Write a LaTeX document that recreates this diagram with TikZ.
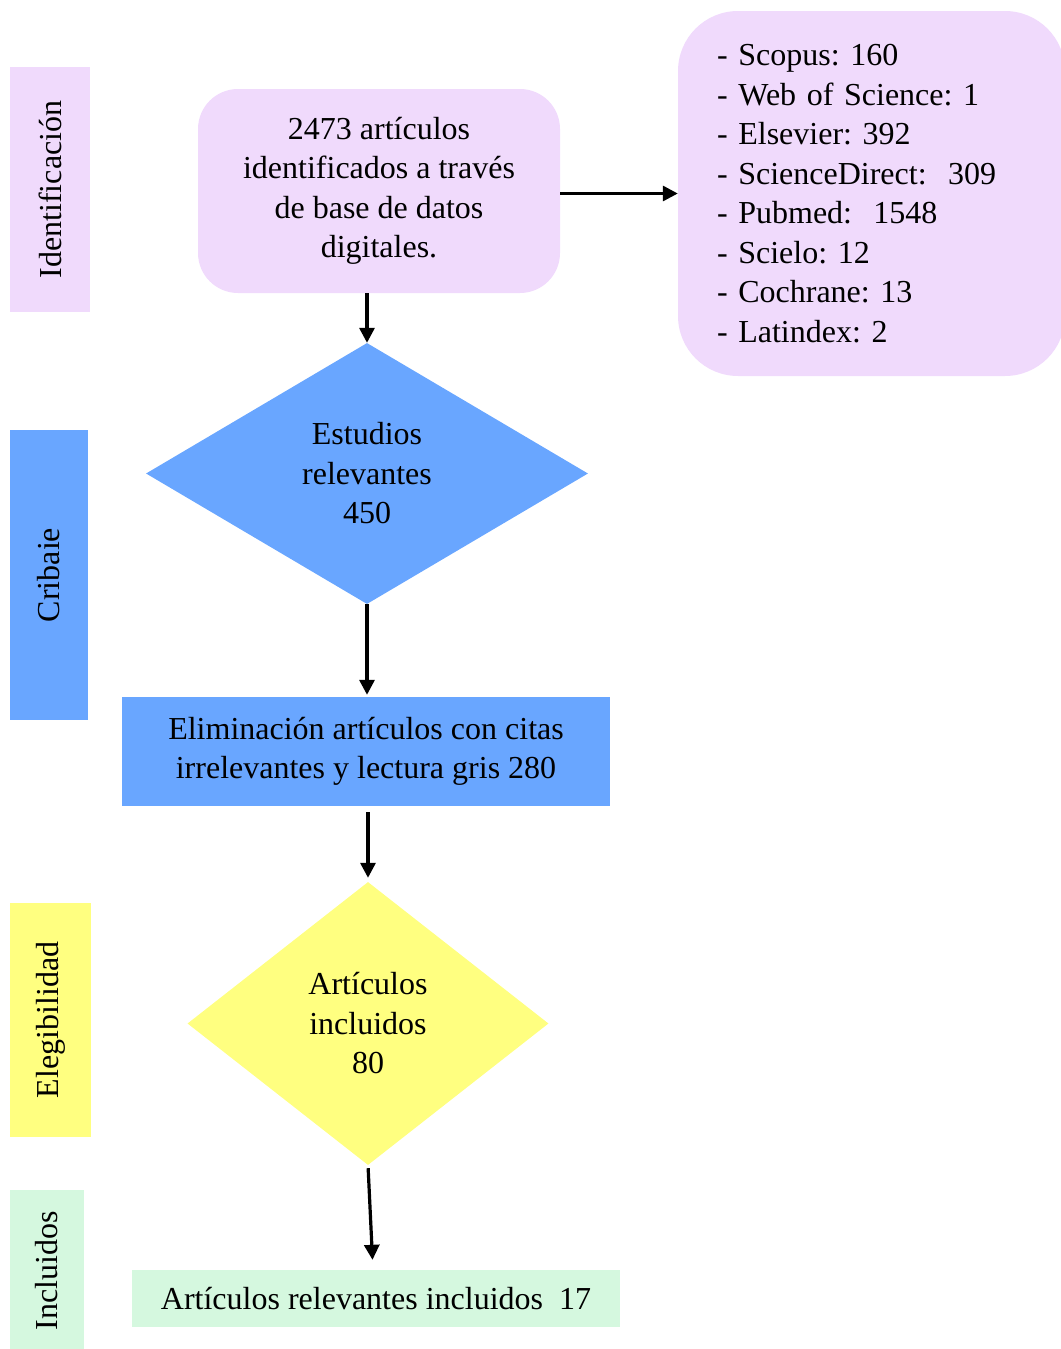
\documentclass[tikz,border=0pt]{standalone}
\usepackage{fontspec}
\setmainfont{Liberation Serif}
\usetikzlibrary{shapes.geometric,arrows.meta}
\definecolor{lpurple}{HTML}{F0DAFC}
\definecolor{lblue}{HTML}{69A6FF}
\definecolor{lyellow}{HTML}{FFFF80}
\definecolor{lmint}{HTML}{D5F8DF}
\tikzset{
  txt/.style={font=\fontsize{32}{39.5}\selectfont\frenchspacing, text=black},
  sidelabel/.style={txt, rotate=90, inner sep=0pt, draw=none},
  flowbox/.style={txt, align=center, inner sep=0pt, draw=none},
  diam/.style={txt, diamond, align=center, inner sep=0pt, draw=none},
  conn/.style={line width=3.2pt, -{Triangle[length=15pt,width=15pt]}},
}
\begin{document}
\begin{tikzpicture}[x=1pt,y=-1pt]
\useasboundingbox (0,0) rectangle (1060,1349);
% side labels
\node[sidelabel, fill=lpurple, minimum width=245pt, minimum height=80pt] (sid) at (50,189.5) {Identificación};
\node[sidelabel, fill=lblue, minimum width=290pt, minimum height=78pt] (scr) at (49,575) {Cribaie};
\node[sidelabel, fill=lyellow, minimum width=234pt, minimum height=81pt] (sel) at (50.5,1020) {Elegibilidad};
\node[sidelabel, fill=lmint, minimum width=162pt, minimum height=74pt] (sin) at (47,1271) {Incluidos};
% main nodes
\node[flowbox, fill=lpurple, rounded corners=40pt, minimum width=362pt, minimum height=204pt] (b1) at (379,191)
  {2473 artículos\\identificados a través\\de base de datos\\digitales.};
\node[txt, fill=lpurple, rounded corners=60pt, align=left, text width=309pt, inner xsep=39pt, inner ysep=0pt, minimum height=365pt] (b2) at (871.5,193.5)
  {- Scopus: 160\\- Web of Science: 1\\- Elsevier: 392\\- ScienceDirect:\ \ 309\\- Pubmed:\ \ 1548\\- Scielo: 12\\- Cochrane: 13\\- Latindex: 2};
\node[diam, fill=lblue, minimum width=442pt, minimum height=261pt] (d1) at (367,473.5)
  {Estudios\\relevantes\\450};
\node[flowbox, fill=lblue, minimum width=488pt, minimum height=109pt] (r3) at (366,751.5)
  {Eliminación artículos con citas\\irrelevantes y lectura gris 280};
\node[diam, fill=lyellow, minimum width=361pt, minimum height=283pt] (d2) at (368,1023.5)
  {Artículos\\incluidos\\80};
\node[flowbox, fill=lmint, minimum width=488pt, minimum height=57pt] (r4) at (376,1298.5)
  {Artículos relevantes incluidos\ \ 17};
% connectors
\draw[conn] (b1.east |- b2.west) -- (b2.west);
\draw[conn] (b1.south -| d1.north) -- (d1.north);
\draw[conn, shorten >=2pt] (d1.south) -- (d1.south |- r3.north);
\draw[conn, shorten <=6pt, shorten >=4pt] (r3.south -| d2.north) -- (d2.north);
\draw[conn, shorten <=3pt, shorten >=10pt] (d2.south) -- ([xshift=-3pt]r4.north);
\end{tikzpicture}
\end{document}
